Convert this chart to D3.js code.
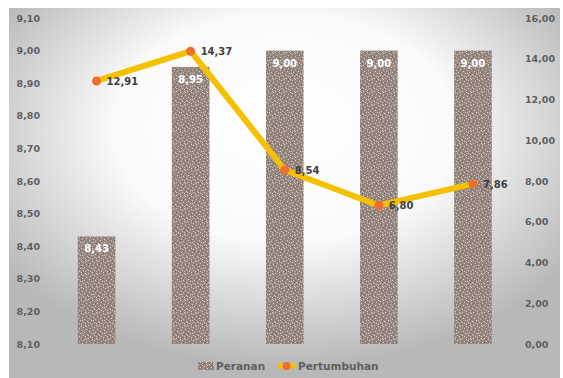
<!DOCTYPE html>
<html><head><meta charset="utf-8">
<script src="https://cdn.jsdelivr.net/npm/d3@7"></script>
<style>html,body{margin:0;padding:0;background:#fff;}svg{display:block;}</style>
</head><body>
<script>
const categories = ["1", "2", "3", "4", "5"];
const peranan = [8.43, 8.95, 9.00, 9.00, 9.00];
const pertumbuhan = [12.91, 14.37, 8.54, 6.80, 7.86];
const leftTicks = [8.1, 8.2, 8.3, 8.4, 8.5, 8.6, 8.7, 8.8, 8.9, 9.0, 9.1];
const rightTicks = [0, 2, 4, 6, 8, 10, 12, 14, 16];
const seriesNames = ["Peranan", "Pertumbuhan"];

const W = 563, H = 378;
const fmt = v => d3.format(".2f")(v).replace(".", ",");
const svg = d3.select("body").append("svg").attr("width", W).attr("height", H);
const defs = svg.append("defs");
const rg = defs.append("radialGradient").attr("id", "bg")
  .attr("cx", "50%").attr("cy", "35%").attr("r", "62%").attr("fx", "50%").attr("fy", "30%");
rg.append("stop").attr("offset", "0%").attr("stop-color", "#ffffff");
rg.append("stop").attr("offset", "50%").attr("stop-color", "#fafafa");
rg.append("stop").attr("offset", "100%").attr("stop-color", "#b8b8b8");

// speckle texture for bars (fixed hand-placed dots)
const pat = defs.append("pattern").attr("id", "tex").attr("patternUnits", "userSpaceOnUse")
  .attr("width", 11).attr("height", 13);
pat.append("rect").attr("width", 11).attr("height", 13).attr("fill", "#968880");
const light = [[0,0],[4,1],[8,0],[2,3],[6,2],[9,4],[1,6],[5,5],[7,7],[3,8],[10,9],[0,10],[6,10],[4,12],[8,11],[2,11],[9,1],[5,8]];
const dark = [[2,1],[7,4],[0,4],[4,6],[9,7],[1,9],[6,12],[3,3],[10,11],[8,9],[5,0]];
light.forEach(([x,y]) => pat.append("rect").attr("x", x).attr("y", y).attr("width", 1).attr("height", 1).attr("fill", "#d4cac2"));
dark.forEach(([x,y]) => pat.append("rect").attr("x", x).attr("y", y).attr("width", 1).attr("height", 1).attr("fill", "#7c6f67"));

svg.append("rect").attr("width", W).attr("height", H).attr("fill", "#fff");
svg.append("rect").attr("x", 9).attr("y", 8).attr("width", 551).attr("height", 370).attr("fill", "url(#bg)");

const x = d3.scaleBand().domain(categories).range([49.5, 520]).paddingInner(0.6).paddingOuter(0.3);
const yL = d3.scaleLinear().domain([8.1, 9.1]).range([344, 18]);
const yR = d3.scaleLinear().domain([0, 16]).range([344, 18]);

const font = "'DejaVu Sans', sans-serif";

// left axis
const axL = d3.axisLeft(yL).tickValues(leftTicks).tickFormat(fmt).tickSize(0).tickPadding(0);
const gL = svg.append("g").attr("transform", "translate(40,0)").call(axL);
gL.select(".domain").remove();
gL.selectAll("text").attr("font-family", font).attr("font-size", 9.5).attr("font-weight", "bold").attr("fill", "#5f5f5f");

// right axis
const axR = d3.axisRight(yR).tickValues(rightTicks).tickFormat(fmt).tickSize(0).tickPadding(0);
const gR = svg.append("g").attr("transform", "translate(525,0)").call(axR);
gR.select(".domain").remove();
gR.selectAll("text").attr("font-family", font).attr("font-size", 9.5).attr("font-weight", "bold").attr("fill", "#5f5f5f");

// bars
svg.append("g").selectAll("rect").data(peranan).join("rect")
  .attr("x", (d, i) => x(categories[i]))
  .attr("width", x.bandwidth())
  .attr("y", d => yL(d))
  .attr("height", d => yL(8.1) - yL(d))
  .attr("fill", "url(#tex)");

svg.append("g").selectAll("text").data(peranan).join("text")
  .attr("x", (d, i) => x(categories[i]) + x.bandwidth() / 2)
  .attr("y", d => yL(d) + 16)
  .attr("text-anchor", "middle")
  .attr("font-family", font).attr("font-size", 10).attr("font-weight", "bold")
  .attr("fill", "#ffffff")
  .text(d => fmt(d));

// line
const cx = i => x(categories[i]) + x.bandwidth() / 2;
const line = d3.line().x((d, i) => cx(i)).y(d => yR(d));
svg.append("path").datum(pertumbuhan).attr("d", line)
  .attr("fill", "none").attr("stroke", "#f5c000").attr("stroke-width", 6)
  .attr("stroke-linejoin", "round").attr("stroke-linecap", "round");
svg.append("g").selectAll("circle").data(pertumbuhan).join("circle")
  .attr("cx", (d, i) => cx(i)).attr("cy", d => yR(d)).attr("r", 4.5)
  .attr("fill", "#ee6f2d");
svg.append("g").selectAll("text").data(pertumbuhan).join("text")
  .attr("x", (d, i) => cx(i) + 10)
  .attr("y", d => yR(d) + 4)
  .attr("font-family", font).attr("font-size", 10).attr("font-weight", "bold")
  .attr("fill", "#404040")
  .text(d => fmt(d));

// legend
const lg = svg.append("g");
lg.append("rect").attr("x", 198).attr("y", 362).attr("width", 16).attr("height", 8).attr("fill", "url(#tex)");
lg.append("text").attr("x", 216).attr("y", 370).attr("font-family", font).attr("font-size", 10.5)
  .attr("font-weight", "bold").attr("fill", "#5f5f5f").text(seriesNames[0]);
lg.append("line").attr("x1", 277).attr("x2", 296).attr("y1", 366).attr("y2", 366)
  .attr("stroke", "#f5c000").attr("stroke-width", 5);
lg.append("circle").attr("cx", 286.5).attr("cy", 366).attr("r", 4).attr("fill", "#ee6f2d");
lg.append("text").attr("x", 298).attr("y", 370).attr("font-family", font).attr("font-size", 10.5)
  .attr("font-weight", "bold").attr("fill", "#5f5f5f").text(seriesNames[1]);
</script>
</body></html>
